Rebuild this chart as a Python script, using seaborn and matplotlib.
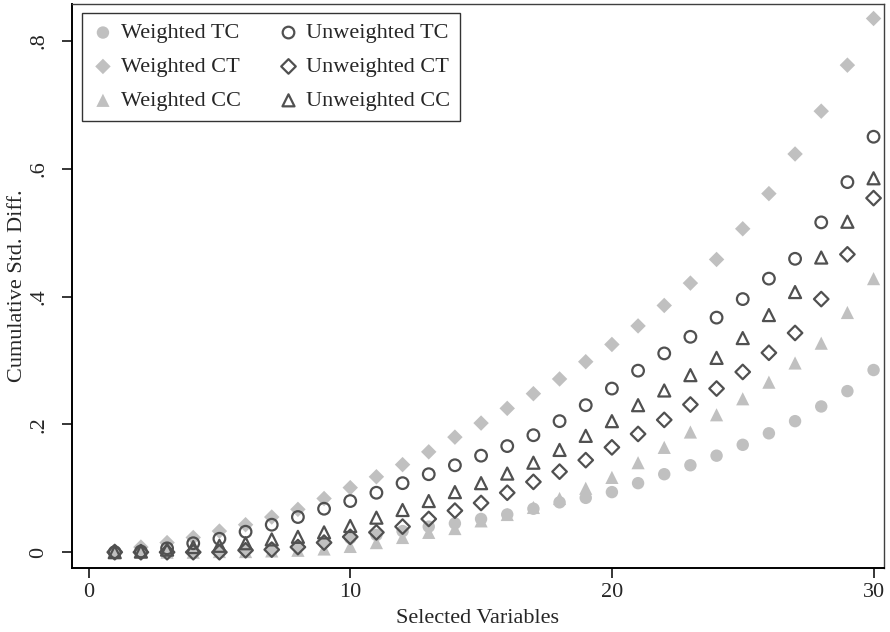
import numpy as np
import pandas as pd
import matplotlib
matplotlib.use("Agg")
import matplotlib.pyplot as plt
import seaborn as sns

# DATA
selected = list(range(1, 31))

weighted_tc = [0.000, 0.000, 0.000, 0.001, 0.002, 0.004, 0.006, 0.009, 0.015, 0.022,
               0.027, 0.033, 0.040, 0.045, 0.052, 0.059, 0.068, 0.078, 0.085, 0.094,
               0.108, 0.122, 0.136, 0.151, 0.168, 0.186, 0.205, 0.228, 0.252, 0.285]
weighted_ct = [0.002, 0.008, 0.015, 0.023, 0.033, 0.043, 0.055, 0.067, 0.084, 0.101,
               0.118, 0.137, 0.157, 0.180, 0.202, 0.225, 0.248, 0.271, 0.298, 0.325,
               0.354, 0.386, 0.421, 0.458, 0.506, 0.561, 0.623, 0.690, 0.762, 0.835]
weighted_cc = [0.000, 0.000, 0.000, 0.000, 0.001, 0.001, 0.002, 0.003, 0.005, 0.009,
               0.015, 0.023, 0.031, 0.037, 0.049, 0.059, 0.070, 0.084, 0.100, 0.117,
               0.140, 0.164, 0.188, 0.215, 0.240, 0.266, 0.296, 0.327, 0.375, 0.428]
unweighted_tc = [0.000, 0.001, 0.006, 0.014, 0.021, 0.032, 0.043, 0.055, 0.068, 0.080,
                 0.093, 0.108, 0.122, 0.136, 0.151, 0.166, 0.183, 0.205, 0.230, 0.256,
                 0.284, 0.311, 0.337, 0.367, 0.396, 0.428, 0.459, 0.516, 0.579, 0.650]
unweighted_ct = [0.000, 0.000, 0.000, 0.000, 0.000, 0.003, 0.004, 0.008, 0.015, 0.024,
                 0.031, 0.040, 0.052, 0.065, 0.077, 0.093, 0.110, 0.126, 0.144, 0.164,
                 0.185, 0.207, 0.231, 0.256, 0.282, 0.312, 0.343, 0.396, 0.466, 0.554]
unweighted_cc = [0.000, 0.001, 0.004, 0.008, 0.010, 0.014, 0.020, 0.024, 0.031, 0.041,
                 0.054, 0.066, 0.080, 0.094, 0.108, 0.123, 0.140, 0.160, 0.182, 0.205,
                 0.230, 0.253, 0.277, 0.304, 0.335, 0.371, 0.407, 0.461, 0.517, 0.585]

series_names = ["Weighted TC", "Weighted CT", "Weighted CC",
                "Unweighted TC", "Unweighted CT", "Unweighted CC"]
series_vals = [weighted_tc, weighted_ct, weighted_cc,
               unweighted_tc, unweighted_ct, unweighted_cc]

x_ticks = [0, 10, 20, 30]
y_ticks = [0, 0.2, 0.4, 0.6, 0.8]
y_ticklabels = ["0", ".2", ".4", ".6", ".8"]

df = pd.DataFrame({
    "x": np.tile(selected, len(series_names)),
    "y": np.concatenate(series_vals),
    "series": np.repeat(series_names, len(selected)),
})

# STYLE
sns.set_theme(style="white")
plt.rcParams["font.family"] = ["Liberation Serif", "DejaVu Serif"]

GRAY = "#c0c0c0"
DARK = "#505050"
FS = 16
styles = {
    "Weighted TC":   dict(marker="o", s=80, color=GRAY, edgecolor="none"),
    "Weighted CT":   dict(marker="D", s=62, color=GRAY, edgecolor="none"),
    "Weighted CC":   dict(marker="^", s=90, color=GRAY, edgecolor="none"),
    "Unweighted TC": dict(marker="o", s=70, facecolor="none", edgecolor=DARK, linewidth=1.6),
    "Unweighted CT": dict(marker="D", s=55, facecolor="none", edgecolor=DARK, linewidth=1.6),
    "Unweighted CC": dict(marker="^", s=75, facecolor="none", edgecolor=DARK, linewidth=1.6),
}

fig = plt.figure(figsize=(8.9, 6.32), dpi=100)
ax = fig.add_axes([0.081, 0.101, 0.912, 0.893])

for name in series_names:
    sub = df[df["series"] == name]
    sns.scatterplot(data=sub, x="x", y="y", ax=ax, label=name, **styles[name])

ax.set_xlim(-0.63, 30.39)
ax.set_ylim(-0.025, 0.858)
ax.set_xticks(x_ticks)
ax.set_yticks(y_ticks)
ax.set_yticklabels(y_ticklabels, rotation=90, va="center")
ax.tick_params(axis="both", which="major", direction="out", length=7, width=1.1,
               color="black", labelsize=FS, left=True, bottom=True)
ax.tick_params(axis="x", pad=4)
ax.tick_params(axis="y", pad=10)
ax.set_xlabel("Selected Variables", fontsize=FS, labelpad=5)
ax.set_ylabel("Cumulative Std. Diff.", fontsize=FS, labelpad=2)

for side in ["left", "bottom"]:
    ax.spines[side].set_color("black")
    ax.spines[side].set_linewidth(1.4)
for side in ["top", "right"]:
    ax.spines[side].set_color("#404040")
    ax.spines[side].set_linewidth(1.0)

leg = ax.legend(ncol=2, loc="upper left", bbox_to_anchor=(0.012, 0.984),
                fontsize=FS, frameon=True, fancybox=False, borderpad=0.45,
                handletextpad=0.3, columnspacing=1.65, labelspacing=0.6,
                handlelength=1.0, borderaxespad=0)
leg.get_frame().set_edgecolor("black")
leg.get_frame().set_linewidth(1.0)

fig.savefig("out.png", dpi=100)
